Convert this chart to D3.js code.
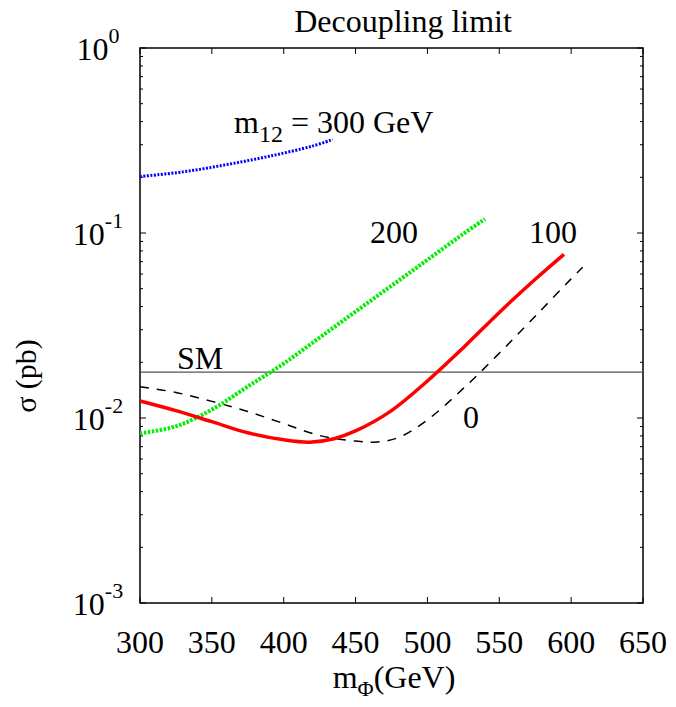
<!DOCTYPE html>
<html>
<head>
<meta charset="utf-8">
<script src="https://cdn.jsdelivr.net/npm/d3@7"></script>
<style>
  html, body { margin: 0; padding: 0; background: #fff; }
  svg text { font-family: "Liberation Serif", "Times New Roman", serif; fill: #000; }
</style>
</head>
<body>
<svg id="chart" width="676" height="707"></svg>
<script>
// Higgs-pair cross sections vs. heavy scalar mass, decoupling limit
const massM0   = [300, 325, 350, 375, 400, 425, 450, 465, 480, 500, 525, 550, 575, 600, 608];
const sigmaM0  = [0.01476, 0.01374, 0.0123, 0.01084, 0.00933, 0.00804, 0.0075, 0.00741, 0.00785, 0.00977, 0.01445, 0.0224, 0.0355, 0.0565, 0.0653];

const massM100  = [300, 325, 350, 375, 400, 418, 435, 450, 475, 500, 525, 550, 575, 595];
const sigmaM100 = [0.01236, 0.01096, 0.00955, 0.00832, 0.00762, 0.0074, 0.00773, 0.00851, 0.01096, 0.01585, 0.0240, 0.0372, 0.0562, 0.0767];

const massM200  = [300, 325, 350, 375, 400, 425, 450, 475, 500, 525, 540];
const sigmaM200 = [0.00826, 0.00902, 0.0111, 0.0148, 0.0197, 0.0272, 0.0376, 0.0519, 0.0716, 0.0989, 0.119];

const massM300  = [300, 330, 360, 390, 420, 434];
const sigmaM300 = [0.202, 0.214, 0.234, 0.26, 0.295, 0.32];

const sigmaSM = 0.0177;

const xTicks = [300, 350, 400, 450, 500, 550, 600, 650];
const yDecades = [0, -1, -2, -3];

const svg = d3.select("#chart");
const frame = { left: 140, right: 643, top: 48, bottom: 603 };

const x = d3.scaleLinear().domain([300, 650]).range([frame.left, frame.right]);
const y = d3.scaleLog().domain([1e-3, 1]).range([frame.bottom, frame.top]);

// frame
svg.append("rect")
  .attr("x", frame.left).attr("y", frame.top)
  .attr("width", frame.right - frame.left).attr("height", frame.bottom - frame.top)
  .attr("fill", "none").attr("stroke", "#000").attr("stroke-width", 1.5);

// inward ticks
const minorY = [];
for (let d = -3; d < 0; d++) for (let k = 2; k <= 9; k++) minorY.push(k * Math.pow(10, d));

const tickG = svg.append("g").attr("stroke", "#000").attr("stroke-width", 1);
xTicks.forEach(v => {
  tickG.append("line").attr("x1", x(v)).attr("x2", x(v)).attr("y1", frame.bottom).attr("y2", frame.bottom - 6);
  tickG.append("line").attr("x1", x(v)).attr("x2", x(v)).attr("y1", frame.top).attr("y2", frame.top + 6);
});
yDecades.forEach(p => {
  const v = Math.pow(10, p);
  tickG.append("line").attr("x1", frame.left).attr("x2", frame.left + 6).attr("y1", y(v)).attr("y2", y(v));
  tickG.append("line").attr("x1", frame.right).attr("x2", frame.right - 6).attr("y1", y(v)).attr("y2", y(v));
});
minorY.forEach(v => {
  tickG.append("line").attr("x1", frame.left).attr("x2", frame.left + 3).attr("y1", y(v)).attr("y2", y(v));
  tickG.append("line").attr("x1", frame.right).attr("x2", frame.right - 3).attr("y1", y(v)).attr("y2", y(v));
});

// tick labels
svg.append("g").selectAll("text").data(xTicks).join("text")
  .attr("x", d => x(d)).attr("y", 653)
  .attr("text-anchor", "middle").attr("font-size", 32)
  .text(d => d);

const yl = svg.append("g").selectAll("text").data(yDecades).join("text")
  .attr("x", 98).attr("y", d => y(Math.pow(10, d)) + 12)
  .attr("text-anchor", "middle").attr("font-size", 32);
yl.append("tspan").text("10");
yl.append("tspan").attr("dy", -17).attr("font-size", 22).text(d => d);

// SM reference
svg.append("line")
  .attr("x1", frame.left).attr("x2", frame.right)
  .attr("y1", y(sigmaSM)).attr("y2", y(sigmaSM))
  .attr("stroke", "#555").attr("stroke-width", 1.4);

// curves
const line = d3.line().x(d => x(d[0])).y(d => y(d[1])).curve(d3.curveCatmullRom.alpha(0.5));
const zip = (a, b) => a.map((v, i) => [v, b[i]]);

svg.append("path").datum(zip(massM0, sigmaM0)).attr("d", line)
  .attr("fill", "none").attr("stroke", "#000").attr("stroke-width", 1.5)
  .attr("stroke-dasharray", "9,8");

svg.append("path").datum(zip(massM200, sigmaM200)).attr("d", line)
  .attr("fill", "none").attr("stroke", "#00ee00").attr("stroke-width", 4)
  .attr("stroke-dasharray", "2.5,1.5");

svg.append("path").datum(zip(massM300, sigmaM300)).attr("d", line)
  .attr("fill", "none").attr("stroke", "#0000ff").attr("stroke-width", 3)
  .attr("stroke-dasharray", "2,1.5");

svg.append("path").datum(zip(massM100, sigmaM100)).attr("d", line)
  .attr("fill", "none").attr("stroke", "#ff0000").attr("stroke-width", 3.5);

// curve labels
const m12 = svg.append("text").attr("x", 234).attr("y", 133).attr("font-size", 32);
m12.append("tspan").text("m");
m12.append("tspan").attr("dy", 9).attr("font-size", 24).text("12");
m12.append("tspan").attr("dy", -9).text(" = 300 GeV");

svg.append("text").attr("x", 370).attr("y", 243).attr("font-size", 32).text("200");
svg.append("text").attr("x", 529).attr("y", 243).attr("font-size", 32).text("100");
svg.append("text").attr("x", 463).attr("y", 428).attr("font-size", 32).text("0");
svg.append("text").attr("x", 177).attr("y", 369).attr("font-size", 32).text("SM");

// title and axis titles
svg.append("text").attr("x", 403).attr("y", 32).attr("text-anchor", "middle")
  .attr("font-size", 32).text("Decoupling limit");

const xt = svg.append("text").attr("x", 394).attr("y", 688).attr("text-anchor", "middle").attr("font-size", 32);
xt.append("tspan").text("m");
xt.append("tspan").attr("dy", 8).attr("font-size", 22).text("Φ");
xt.append("tspan").attr("dy", -8).text("(GeV)");

svg.append("text")
  .attr("transform", "translate(36,376) rotate(-90)")
  .attr("text-anchor", "middle").attr("font-size", 30)
  .text("σ (pb)");
</script>
</body>
</html>
